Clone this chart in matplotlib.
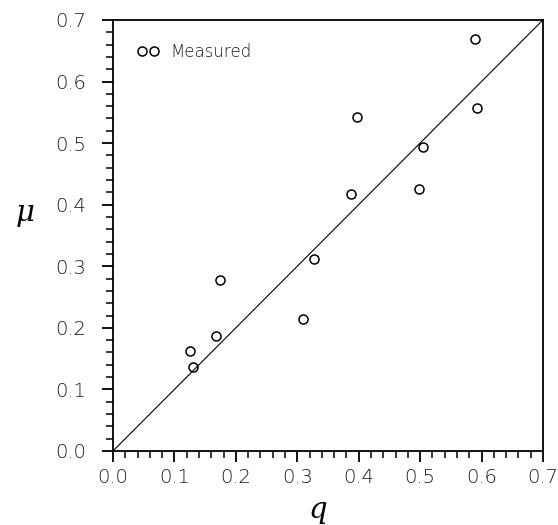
import matplotlib
matplotlib.use('Agg')
import matplotlib.pyplot as plt
import numpy as np
from matplotlib.ticker import MultipleLocator

# measured points (q, mu)
q_meas = [0.125, 0.131, 0.168, 0.175, 0.309, 0.327, 0.387, 0.397, 0.498, 0.505, 0.590, 0.593]
mu_meas = [0.163, 0.136, 0.187, 0.278, 0.215, 0.311, 0.417, 0.542, 0.425, 0.493, 0.669, 0.557]
diag = [0.0, 0.7]

fig = plt.figure(figsize=(5.58, 5.25), dpi=100)
ax = fig.add_axes([0.2025, 0.141, 0.7705, 0.821])

ax.plot(diag, diag, color='black', lw=0.8)
ax.plot(q_meas, mu_meas, 'o', mfc='none', mec='black', ms=6.5, mew=1.1,
        label='Measured', linestyle='none')

ax.set_xlim(0, 0.7)
ax.set_ylim(0, 0.7)
ax.xaxis.set_major_locator(MultipleLocator(0.1))
ax.yaxis.set_major_locator(MultipleLocator(0.1))
ax.xaxis.set_minor_locator(MultipleLocator(0.02))
ax.yaxis.set_minor_locator(MultipleLocator(0.02))
ax.tick_params(which='major', direction='out', length=8, width=1.3,
               labelsize=14, labelcolor='#1a1a1a')
ax.tick_params(which='minor', direction='out', length=5, width=1.1)
ax.tick_params(axis='x', which='major', pad=4.5)
ax.tick_params(axis='y', which='major', pad=11)
ax.xaxis.set_major_formatter(plt.FuncFormatter(lambda v, p: f'{v:.1f}'))
ax.yaxis.set_major_formatter(plt.FuncFormatter(lambda v, p: f'{v:.1f}'))
for lab in ax.get_xticklabels() + ax.get_yticklabels():
    lab.set_fontweight('light')
for s in ax.spines.values():
    s.set_linewidth(1.3)

ax.set_xlabel('q', fontsize=21, family='DejaVu Serif', style='italic',
              va='center')
ax.xaxis.set_label_coords(0.477, -0.137)
ax.set_ylabel('μ', fontsize=21, family='DejaVu Serif', style='italic',
              rotation=0, va='center', ha='center')
ax.yaxis.set_label_coords(-0.205, 0.552)

leg = ax.legend(loc='center left', bbox_to_anchor=(0.056, 0.926), numpoints=2,
                frameon=False, fontsize=12, handlelength=1.32, handletextpad=0.66,
                borderpad=0, borderaxespad=0)
for t in leg.get_texts():
    t.set_color('#1a1a1a')
    t.set_fontweight('light')

fig.savefig('out.png', dpi=100)
